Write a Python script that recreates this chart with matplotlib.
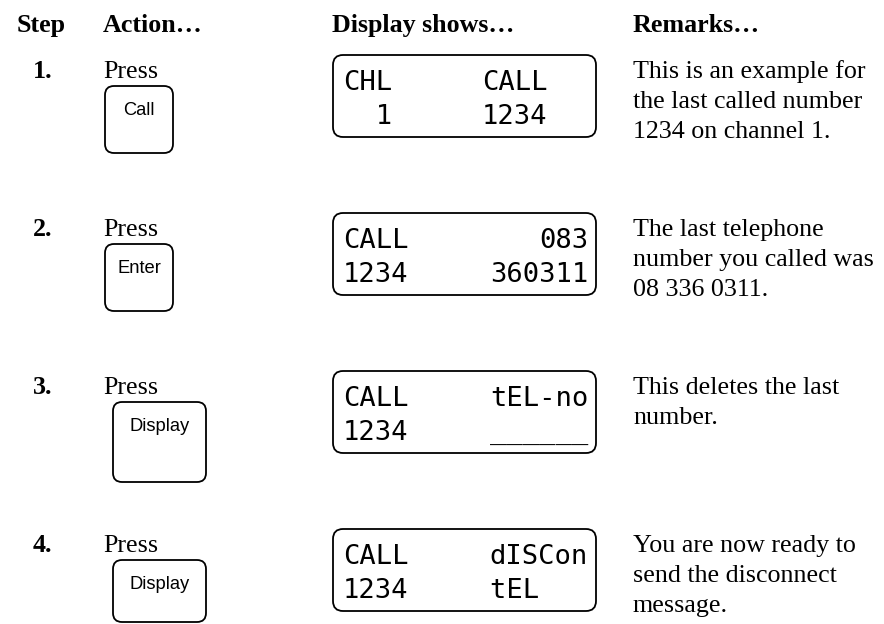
import matplotlib.pyplot as plt
from matplotlib.patches import FancyBboxPatch

# table content
headers = ["Step", "Action…", "Display shows…", "Remarks…"]
steps = ["1.", "2.", "3.", "4."]
keys = ["Call", "Enter", "Display", "Display"]
lcd_top_left = ["CHL", "CALL", "CALL", "CALL"]
lcd_top_right = ["CALL", "083", "tEL-no", "dISCon"]
lcd_bottom_left = ["  1", "1234", "1234", "1234"]
lcd_bottom_right = ["1234", "360311", "______", "tEL   "]
remarks = [
    ["This is an example for", "the last called number", "1234 on channel 1."],
    ["The last telephone", "number you called was", "08 336 0311."],
    ["This deletes the last", "number."],
    ["You are now ready to", "send the disconnect", "message."],
]

W, H = 884, 624
fig = plt.figure(figsize=(W / 100, H / 100), dpi=100)
ax = fig.add_axes([0, 0, 1, 1])
ax.set_xlim(0, W)
ax.set_ylim(H, 0)
ax.axis("off")

serif = "Liberation Serif"
fs = 18.7  # ~26 px
lcd_font = ["DejaVu Sans Mono"]
lcd_fs = 19.5

# header row
for x, h in zip([17, 103, 332, 633], headers):
    ax.text(x, 32, h, fontfamily=serif, fontweight="bold", fontsize=fs, va="baseline")

row_gap = 158
for i in range(4):
    base = 78 + i * row_gap

    ax.text(33, base, steps[i], fontfamily=serif, fontweight="bold", fontsize=fs, va="baseline")
    ax.text(103, base, "Press", fontfamily=serif, fontsize=fs, va="baseline")

    # key button
    if keys[i] == "Display":
        bx, bw, bh = 113, 93, 80 if i == 2 else 62
    else:
        bx, bw, bh = 105, 68, 67
    by = base + 8
    ax.add_patch(FancyBboxPatch((bx, by), bw, bh, boxstyle="round,pad=0,rounding_size=9",
                                fc="white", ec="black", lw=1.3))
    ax.text(bx + bw / 2, by + 29, keys[i], fontfamily="Liberation Sans", fontsize=13.2,
            ha="center", va="baseline")

    # LCD display box
    dy = base - 23
    ax.add_patch(FancyBboxPatch((333, dy), 263, 82, boxstyle="round,pad=0,rounding_size=10",
                                fc="white", ec="black", lw=1.3))
    ax.text(343, dy + 35, lcd_top_left[i], fontfamily=lcd_font, fontsize=lcd_fs, va="baseline")
    ax.text(343, dy + 69, lcd_bottom_left[i], fontfamily=lcd_font, fontsize=lcd_fs, va="baseline")
    if i == 0:
        rx, ha = 482, "left"
    else:
        rx, ha = 588, "right"
    ax.text(rx, dy + 35, lcd_top_right[i], fontfamily=lcd_font, fontsize=lcd_fs, va="baseline", ha=ha)
    ax.text(rx, dy + 69, lcd_bottom_right[i], fontfamily=lcd_font, fontsize=lcd_fs, va="baseline", ha=ha)

    # remarks
    for j, line in enumerate(remarks[i]):
        ax.text(633, base + j * 30, line, fontfamily=serif, fontsize=fs, va="baseline")

fig.savefig("out.png", dpi=100, facecolor="white")
